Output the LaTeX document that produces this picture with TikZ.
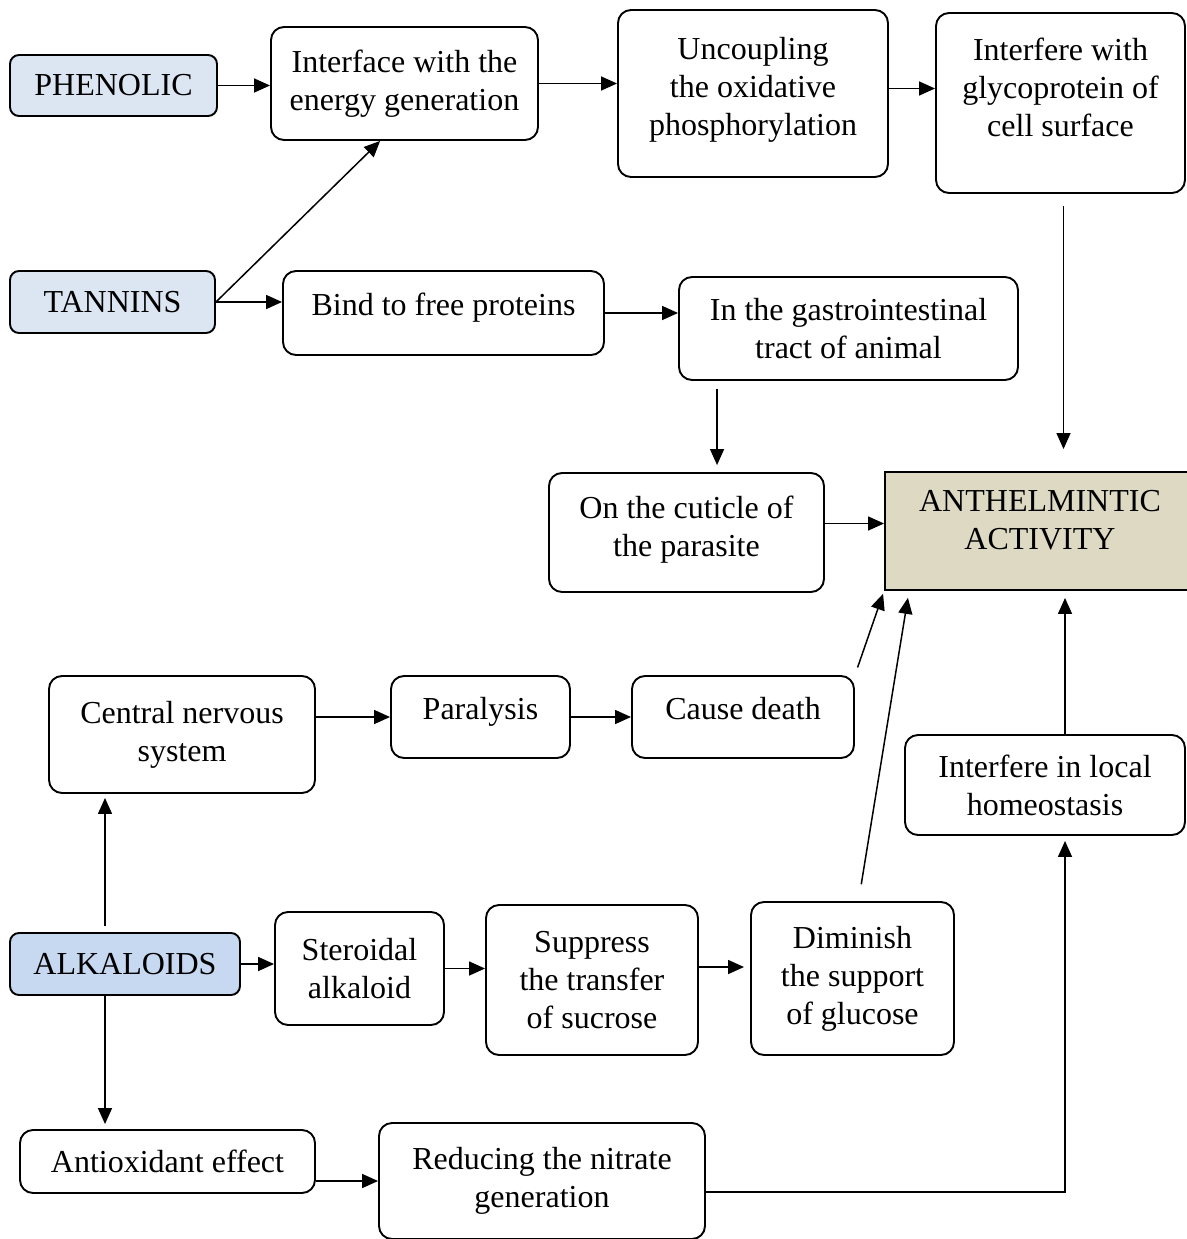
\documentclass[tikz,border=0pt]{standalone}
\usepackage{fontspec}
\setmainfont{Liberation Serif}
\usetikzlibrary{arrows.meta,calc}
\definecolor{srcblue}{HTML}{DCE6F2}
\definecolor{alkblue}{HTML}{C6D9F1}
\definecolor{actbeige}{HTML}{DDD9C3}
\tikzset{
 box/.style={draw,rounded corners=13pt,line width=1.9pt,align=center,inner sep=0pt,font=\fontsize{32}{38}\selectfont},
 src/.style={box,rounded corners=9pt,fill=srcblue},
 arr/.style={-{Triangle[length=16pt,width=14pt]},line width=1.5pt},
 sz/.style 2 args={minimum width=#1pt,minimum height=#2pt}
}
\begin{document}
\begin{tikzpicture}[x=1pt,y=-1pt]
\useasboundingbox (0,0) rectangle (1186,1239);
\node[src,sz={207}{61}] (phenolic) at (113.5,85.5) {PHENOLIC};
\node[box,sz={267}{113}] (energy) at (404.5,83.5) {Interface with the\\energy generation};
\node[box,sz={270}{167},text depth=15pt] (uncoupling) at (753,93.5) {Uncoupling\\the oxidative\\phosphorylation};
\node[box,sz={249}{180},text depth=32pt] (glyco) at (1060.5,103) {Interfere with\\glycoprotein of\\cell surface};
\node[src,sz={205}{62}] (tannins) at (112.5,302) {TANNINS};
\node[box,sz={321}{84},text depth=17pt] (bind) at (443.5,313) {Bind to free proteins};
\node[box,sz={339}{103}] (gitract) at (848.5,328.5) {In the gastrointestinal\\tract of animal};
\node[box,sz={275}{119},text depth=13pt] (cuticle) at (686.5,532.5) {On the cuticle of\\the parasite};
\node[box,rounded corners=0pt,fill=actbeige,sz={310}{118},text depth=22pt] (activity) at (1040,531) {ANTHELMINTIC\\ACTIVITY};
\node[box,sz={266}{117}] (cns) at (182,734.5) {Central nervous\\system};
\node[box,sz={179}{82},text depth=17pt] (paralysis) at (480.5,717) {Paralysis};
\node[box,sz={222}{82},text depth=17pt] (death) at (743,717) {Cause death};
\node[box,sz={280}{100}] (homeo) at (1045,785) {Interfere in local\\homeostasis};
\node[src,fill=alkblue,sz={230}{62}] (alkaloids) at (125,964) {ALKALOIDS};
\node[box,sz={169}{113}] (steroidal) at (359.5,968.5) {Steroidal\\alkaloid};
\node[box,sz={212}{150}] (sucrose) at (592,980) {Suppress\\the transfer\\of sucrose};
\node[box,sz={203}{153}] (glucose) at (852.5,978.5) {Diminish\\the support\\of glucose};
\node[box,sz={295}{63}] (antiox) at (167.5,1161.5) {Antioxidant effect};
\node[box,sz={326}{116}] (nitrate) at (542,1181) {Reducing the nitrate\\generation};
\draw[arr](phenolic.east)--(phenolic.east-|energy.west);
\draw[arr](energy.east)--(energy.east-|uncoupling.west);
\draw[arr]($(uncoupling.east)+(0,-5)$)coordinate(u1)--(u1-|glyco.west);
\draw[arr](tannins.east)--(energy.247);
\draw[arr](tannins.east)--(tannins.east-|bind.west);
\draw[arr](bind.east)--(bind.east-|gitract.west);
\draw[arr,shorten <=12pt,shorten >=22pt]($(glyco.south)+(3,0)$)coordinate(g1)--(g1|-activity.north);
\draw[arr,shorten <=8pt,shorten >=7pt]($(gitract.south west)+(39,0)$)coordinate(t1)--(t1|-cuticle.north);
\draw[arr]($(cuticle.east)+(0,-9)$)coordinate(c1)--(c1-|activity.west);
\draw[arr](paralysis.west-|cns.east)--(paralysis.west);
\draw[arr](paralysis.east)--(death.west);
\draw[arr,shorten <=8pt,shorten >=3pt](death.north east)--(activity.south west);
\draw[arr,shorten <=17pt,shorten >=7pt]($(glucose.north)+(6,0)$)--($(activity.south west)+(25,0)$);
\draw[arr,shorten >=7pt]($(homeo.north)+(20,0)$)coordinate(h1)--(h1|-activity.south);
\draw[arr,shorten <=6pt,shorten >=4pt]($(alkaloids.north)+(-20,0)$)coordinate(a1)--(a1|-cns.south);
\draw[arr,shorten >=5pt]($(alkaloids.south)+(-20,0)$)coordinate(a2)--(a2|-antiox.north);
\draw[arr](alkaloids.east)--(alkaloids.east-|steroidal.west);
\draw[arr](steroidal.east)--(steroidal.east-|sucrose.west);
\draw[arr,shorten >=6pt]($(sucrose.east)+(0,-13)$)coordinate(s1)--(s1-|glucose.west);
\draw[arr](nitrate.west-|antiox.east)--(nitrate.west);
\draw[arr,shorten >=5pt]($(nitrate.east)+(0,11)$)-|($(homeo.south)+(20,0)$);
\end{tikzpicture}
\end{document}
